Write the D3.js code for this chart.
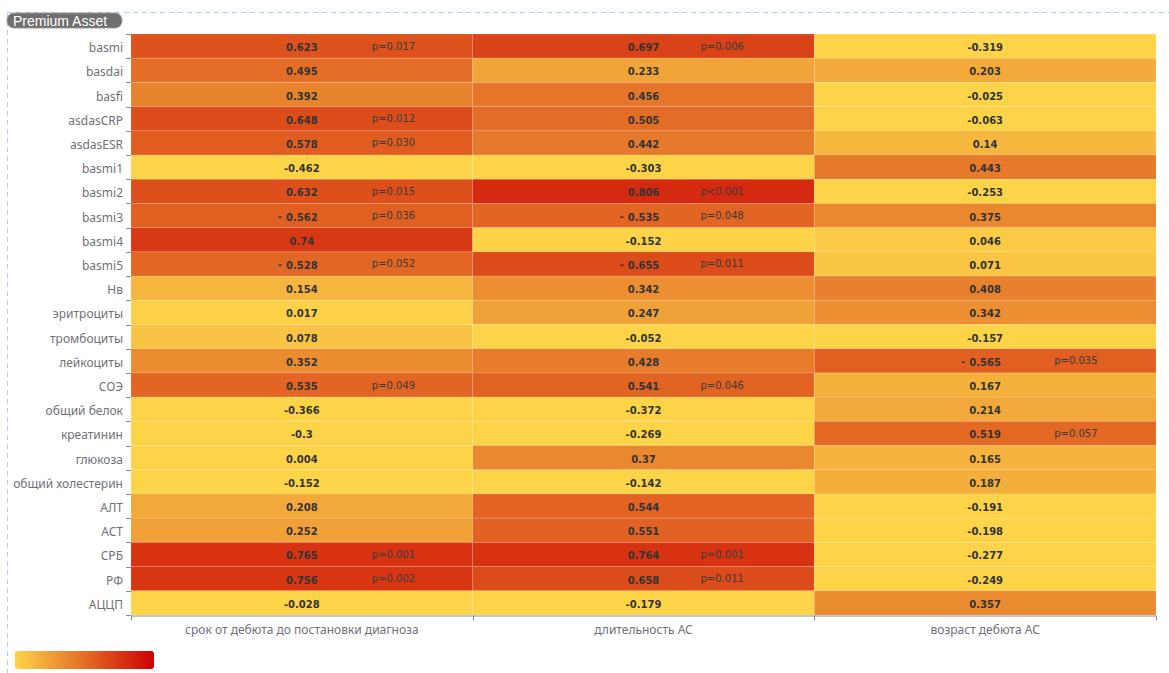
<!DOCTYPE html>
<html>
<head>
<meta charset="utf-8">
<script src="https://cdn.jsdelivr.net/npm/d3@7"></script>
<style>
  html, body { margin: 0; padding: 0; background: #fff; }
  svg { display: block; }
</style>
</head>
<body>
<svg id="chart" width="1169" height="673"></svg>
<script>
// Correlation matrix: clinical indicators vs. disease timing measures
const indicators = ['basmi', 'basdai', 'basfi', 'asdasCRP', 'asdasESR', 'basmi1', 'basmi2', 'basmi3', 'basmi4', 'basmi5',
  'Нв', 'эритроциты', 'тромбоциты', 'лейкоциты', 'СОЭ', 'общий белок', 'креатинин', 'глюкоза', 'общий холестерин',
  'АЛТ', 'АСТ', 'СРБ', 'РФ', 'АЦЦП'];

const measures = ['срок от дебюта до постановки диагноза', 'длительность АС', 'возраст дебюта АС'];

const onsetToDiagnosis = [0.623, 0.495, 0.392, 0.648, 0.578, -0.462, 0.632, 0.562, 0.74, 0.528,
  0.154, 0.017, 0.078, 0.352, 0.535, -0.366, -0.3, 0.004, -0.152, 0.208, 0.252, 0.765, 0.756, -0.028];
const durationAS = [0.697, 0.233, 0.456, 0.505, 0.442, -0.303, 0.806, 0.535, -0.152, 0.655,
  0.342, 0.247, -0.052, 0.428, 0.541, -0.372, -0.269, 0.37, -0.142, 0.544, 0.551, 0.764, 0.658, -0.179];
const ageAtOnset = [-0.319, 0.203, -0.025, -0.063, 0.14, 0.443, -0.253, 0.375, 0.046, 0.071,
  0.408, 0.342, -0.157, 0.565, 0.167, 0.214, 0.519, 0.165, 0.187, -0.191, -0.198, -0.277, -0.249, 0.357];

// p-values printed beside significant cells: [measure index, indicator, text]
const pValues = [
  [0, 'basmi', 'p=0.017'], [0, 'asdasCRP', 'p=0.012'], [0, 'asdasESR', 'p=0.030'], [0, 'basmi2', 'p=0.015'],
  [0, 'basmi3', 'p=0.036'], [0, 'basmi5', 'p=0.052'], [0, 'СОЭ', 'p=0.049'], [0, 'СРБ', 'p=0.001'], [0, 'РФ', 'p=0.002'],
  [1, 'basmi', 'p=0.006'], [1, 'basmi2', 'p<0.001'], [1, 'basmi3', 'p=0.048'], [1, 'basmi5', 'p=0.011'],
  [1, 'СОЭ', 'p=0.046'], [1, 'СРБ', 'p=0.001'], [1, 'РФ', 'p=0.011'],
  [2, 'лейкоциты', 'p=0.035'], [2, 'креатинин', 'p=0.057']
];

// cells whose label carries a separate leading dash mark
const dashMarks = [[0, 'basmi3'], [0, 'basmi5'], [1, 'basmi3'], [1, 'basmi5'], [2, 'лейкоциты']];

const colorStops = [0, 0.45, 1.0];
const colorRange = ['#fdd448', '#e6782a', '#cc0000'];

const series = [onsetToDiagnosis, durationAS, ageAtOnset];
const cells = [];
series.forEach((vals, ci) => vals.forEach((v, ri) => cells.push({ col: ci, row: indicators[ri], value: v })));

const svg = d3.select('#chart');
const margin = { left: 131, right: 1156, top: 34, bottom: 615 };

const x = d3.scaleBand().domain(d3.range(measures.length)).range([margin.left, margin.right]);
const y = d3.scaleBand().domain(indicators).range([margin.top, margin.bottom]);
const color = d3.scaleLinear().domain(colorStops).range(colorRange).clamp(true);

// outer dashed frame
svg.append('line').attr('x1', 7).attr('x2', 1169).attr('y1', 12.5).attr('y2', 12.5)
  .attr('stroke', '#b3d1f5').attr('stroke-dasharray', '5,4');
svg.append('line').attr('x1', 7.5).attr('x2', 7.5).attr('y1', 12).attr('y2', 673)
  .attr('stroke', '#b3d1f5').attr('stroke-dasharray', '5,4');

// badge
const badge = svg.append('g');
badge.append('rect').attr('x', 7).attr('y', 13).attr('width', 115).attr('height', 15).attr('rx', 7)
  .attr('fill', '#6f6f6f').attr('stroke', '#9a9a9a').attr('stroke-width', 1);
badge.append('text').attr('x', 13).attr('y', 26).attr('fill', '#fff')
  .attr('font-family', 'Liberation Sans, Arial, sans-serif').attr('font-size', 14)
  .text('Premium Asset');

// heatmap cells
svg.append('g').selectAll('rect').data(cells).join('rect')
  .attr('x', d => x(d.col)).attr('y', d => y(d.row))
  .attr('width', x.bandwidth()).attr('height', y.bandwidth())
  .attr('fill', d => color(d.value))
  .attr('stroke', 'rgba(255,255,255,0.12)').attr('stroke-width', 1);

// value labels
svg.append('g').selectAll('text').data(cells).join('text')
  .attr('x', d => x(d.col) + x.bandwidth() / 2).attr('y', d => y(d.row) + y.bandwidth() / 2 + 1.5)
  .attr('dy', '0.35em').attr('text-anchor', 'middle')
  .attr('font-family', 'DejaVu Sans, sans-serif').attr('font-size', 10).attr('font-weight', 'bold')
  .attr('fill', '#333').text(d => String(d.value));

// dash marks
svg.append('g').selectAll('text').data(dashMarks).join('text')
  .attr('x', d => x(d[0]) + x.bandwidth() / 2 - 22).attr('y', d => y(d[1]) + y.bandwidth() / 2 + 0.5)
  .attr('dy', '0.35em').attr('text-anchor', 'middle')
  .attr('font-family', 'DejaVu Sans, sans-serif').attr('font-size', 10).attr('font-weight', 'bold')
  .attr('fill', '#333').text('-');

// p-value labels
const pOffset = [70, 57, 69];
svg.append('g').selectAll('text').data(pValues).join('text')
  .attr('x', d => x(d[0]) + x.bandwidth() / 2 + pOffset[d[0]]).attr('y', d => y(d[1]) + y.bandwidth() / 2)
  .attr('dy', '0.35em').attr('text-anchor', 'start')
  .attr('font-family', 'DejaVu Sans, sans-serif').attr('font-size', 10)
  .attr('fill', '#3a3a3a').text(d => d[2]);

// y axis
const yAxis = d3.axisLeft(y).tickSize(0).tickPadding(8);
const gy = svg.append('g').attr('transform', `translate(${margin.left},0)`).call(yAxis);
gy.select('.domain').remove();
gy.selectAll('.tick text').attr('dy', '0.5em')
  .attr('font-family', 'Noto Sans, sans-serif').attr('font-size', 12).attr('fill', '#6e7079');
gy.selectAll('.bound').data(d3.range(indicators.length + 1)).join('line')
  .attr('x1', -5).attr('x2', 0)
  .attr('y1', i => Math.round(margin.top + i * y.step()) + 0.5)
  .attr('y2', i => Math.round(margin.top + i * y.step()) + 0.5)
  .attr('stroke', '#8a8c94');

// x axis
const xAxis = d3.axisBottom(x).tickSize(0).tickPadding(10).tickFormat(i => measures[i]);
const gx = svg.append('g').attr('transform', `translate(0,${margin.bottom + 0.5})`).call(xAxis);
gx.select('.domain').attr('stroke', '#8a8c94');
gx.selectAll('.tick text').attr('font-family', 'Noto Sans, sans-serif').attr('font-size', 12).attr('fill', '#6e7079');
gx.selectAll('.bound').data(d3.range(measures.length + 1)).join('line')
  .attr('x1', i => Math.round(margin.left + i * x.step()) + 0.5)
  .attr('x2', i => Math.round(margin.left + i * x.step()) + 0.5)
  .attr('y1', 0).attr('y2', 5).attr('stroke', '#8a8c94');

// continuous colour legend
const grad = svg.append('defs').append('linearGradient').attr('id', 'legendGrad');
colorStops.forEach((s, i) => grad.append('stop')
  .attr('offset', s / colorStops[colorStops.length - 1]).attr('stop-color', colorRange[i]));
svg.append('rect').attr('x', 15).attr('y', 651).attr('width', 139).attr('height', 18).attr('rx', 3)
  .attr('fill', 'url(#legendGrad)');
</script>
</body>
</html>
